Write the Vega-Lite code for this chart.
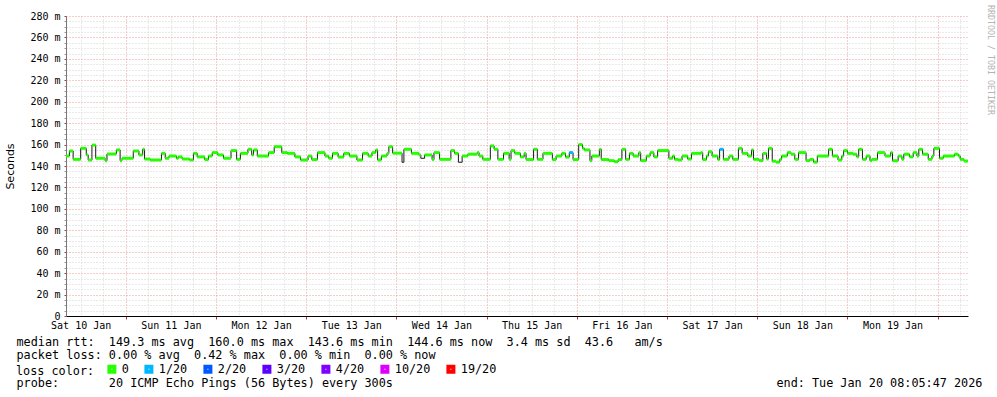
{
"$schema": "https://vega.github.io/schema/vega-lite/v6.json",
"width": 902, "height": 300,
"autosize": {"type": "none"},
"padding": {"left": 66, "top": 16, "right": 29, "bottom": 81},
"background": "white",
"config": {"view": {"stroke": null}, "font": "DejaVu Sans Mono"},
"title": {"text": "RRDTOOL / TOBI OETIKER", "orient": "right", "anchor": "start", "frame": "group", "angle": 90, "fontSize": 8.3, "font": "DejaVu Sans Mono", "fontWeight": "normal", "color": "#b4b4b4", "offset": 5, "dx": -11},
"data": {"values": [
{"t":"2026-01-10T08:06","rtt":149.3,"loss":"0"},
{"t":"2026-01-10T09:00","rtt":154,"loss":"0"},
{"t":"2026-01-10T10:00","rtt":146.2,"loss":"0"},
{"t":"2026-01-10T12:00","rtt":156.5,"loss":"0"},
{"t":"2026-01-10T13:30","rtt":150.3,"loss":"0"},
{"t":"2026-01-10T14:00","rtt":145.6,"loss":"0"},
{"t":"2026-01-10T15:00","rtt":159.5,"loss":"0"},
{"t":"2026-01-10T16:00","rtt":147.2,"loss":"0"},
{"t":"2026-01-10T18:30","rtt":144.9,"loss":"0"},
{"t":"2026-01-10T19:00","rtt":151.2,"loss":"0"},
{"t":"2026-01-10T21:30","rtt":155,"loss":"0"},
{"t":"2026-01-10T22:30","rtt":145,"loss":"0"},
{"t":"2026-01-10T23:00","rtt":147.2,"loss":"0"},
{"t":"2026-01-11T02:00","rtt":154,"loss":"0"},
{"t":"2026-01-11T03:30","rtt":150.3,"loss":"0"},
{"t":"2026-01-11T04:30","rtt":155.6,"loss":"0"},
{"t":"2026-01-11T05:00","rtt":146.5,"loss":"0"},
{"t":"2026-01-11T06:30","rtt":145.6,"loss":"0"},
{"t":"2026-01-11T09:30","rtt":151.8,"loss":"0"},
{"t":"2026-01-11T10:30","rtt":147.2,"loss":"0"},
{"t":"2026-01-11T11:30","rtt":149.3,"loss":"0"},
{"t":"2026-01-11T13:30","rtt":147.2,"loss":"0"},
{"t":"2026-01-11T14:00","rtt":148.5,"loss":"0"},
{"t":"2026-01-11T15:00","rtt":146.5,"loss":"0"},
{"t":"2026-01-11T17:00","rtt":145.6,"loss":"0"},
{"t":"2026-01-11T18:00","rtt":151.8,"loss":"0"},
{"t":"2026-01-11T19:00","rtt":148.5,"loss":"0"},
{"t":"2026-01-11T21:00","rtt":146,"loss":"0"},
{"t":"2026-01-11T22:00","rtt":149.3,"loss":"0"},
{"t":"2026-01-11T23:00","rtt":152.5,"loss":"0"},
{"t":"2026-01-12T00:30","rtt":150.3,"loss":"0"},
{"t":"2026-01-12T02:00","rtt":147.2,"loss":"0"},
{"t":"2026-01-12T04:00","rtt":154.4,"loss":"0"},
{"t":"2026-01-12T05:30","rtt":146.2,"loss":"0"},
{"t":"2026-01-12T06:30","rtt":151.8,"loss":"0"},
{"t":"2026-01-12T08:30","rtt":155.6,"loss":"0"},
{"t":"2026-01-12T09:30","rtt":150.3,"loss":"0"},
{"t":"2026-01-12T10:00","rtt":155,"loss":"0"},
{"t":"2026-01-12T11:00","rtt":149.3,"loss":"0"},
{"t":"2026-01-12T14:00","rtt":152.5,"loss":"0"},
{"t":"2026-01-12T15:30","rtt":158,"loss":"0"},
{"t":"2026-01-12T17:30","rtt":152.5,"loss":"0"},
{"t":"2026-01-12T19:00","rtt":151.8,"loss":"0"},
{"t":"2026-01-12T21:00","rtt":148.5,"loss":"0"},
{"t":"2026-01-12T22:30","rtt":145.6,"loss":"0"},
{"t":"2026-01-13T00:30","rtt":149.3,"loss":"0"},
{"t":"2026-01-13T01:30","rtt":146,"loss":"0"},
{"t":"2026-01-13T03:00","rtt":152.5,"loss":"0"},
{"t":"2026-01-13T05:00","rtt":149.3,"loss":"0"},
{"t":"2026-01-13T06:00","rtt":147.2,"loss":"0"},
{"t":"2026-01-13T07:00","rtt":151.8,"loss":"0"},
{"t":"2026-01-13T08:30","rtt":148.3,"loss":"0"},
{"t":"2026-01-13T10:00","rtt":151.8,"loss":"0"},
{"t":"2026-01-13T11:30","rtt":149.3,"loss":"0"},
{"t":"2026-01-13T13:30","rtt":145.6,"loss":"0"},
{"t":"2026-01-13T15:00","rtt":151.8,"loss":"0"},
{"t":"2026-01-13T16:30","rtt":149.3,"loss":"0"},
{"t":"2026-01-13T17:30","rtt":152.5,"loss":"0"},
{"t":"2026-01-13T18:30","rtt":155,"loss":"0"},
{"t":"2026-01-13T19:00","rtt":145.6,"loss":"0"},
{"t":"2026-01-13T20:00","rtt":149.3,"loss":"0"},
{"t":"2026-01-13T21:30","rtt":151.8,"loss":"0"},
{"t":"2026-01-13T22:00","rtt":158,"loss":"0"},
{"t":"2026-01-13T23:00","rtt":152,"loss":"0"},
{"t":"2026-01-14T01:30","rtt":143.5,"loss":"none"},
{"t":"2026-01-14T02:00","rtt":155.6,"loss":"0"},
{"t":"2026-01-14T04:00","rtt":151.8,"loss":"0"},
{"t":"2026-01-14T06:00","rtt":150.3,"loss":"0"},
{"t":"2026-01-14T06:30","rtt":147.2,"loss":"none"},
{"t":"2026-01-14T07:30","rtt":150.3,"loss":"0"},
{"t":"2026-01-14T09:30","rtt":146,"loss":"0"},
{"t":"2026-01-14T10:00","rtt":152.5,"loss":"0"},
{"t":"2026-01-14T11:30","rtt":146.2,"loss":"0"},
{"t":"2026-01-14T14:30","rtt":154.4,"loss":"0"},
{"t":"2026-01-14T15:30","rtt":151.8,"loss":"0"},
{"t":"2026-01-14T16:30","rtt":143.5,"loss":"none"},
{"t":"2026-01-14T17:30","rtt":149.3,"loss":"0"},
{"t":"2026-01-14T19:00","rtt":151,"loss":"0"},
{"t":"2026-01-14T21:30","rtt":152.5,"loss":"0"},
{"t":"2026-01-14T22:00","rtt":149.3,"loss":"0"},
{"t":"2026-01-14T23:00","rtt":146.2,"loss":"0"},
{"t":"2026-01-15T01:00","rtt":158.8,"loss":"0"},
{"t":"2026-01-15T02:00","rtt":155.6,"loss":"0"},
{"t":"2026-01-15T03:00","rtt":146.2,"loss":"0"},
{"t":"2026-01-15T04:30","rtt":151.8,"loss":"0"},
{"t":"2026-01-15T06:00","rtt":146.2,"loss":"0"},
{"t":"2026-01-15T06:30","rtt":154.4,"loss":"0"},
{"t":"2026-01-15T07:30","rtt":151.8,"loss":"0"},
{"t":"2026-01-15T09:00","rtt":148.5,"loss":"0"},
{"t":"2026-01-15T10:00","rtt":151.8,"loss":"0"},
{"t":"2026-01-15T10:30","rtt":146,"loss":"0"},
{"t":"2026-01-15T12:30","rtt":155.6,"loss":"0"},
{"t":"2026-01-15T13:30","rtt":146.2,"loss":"0"},
{"t":"2026-01-15T15:00","rtt":151.8,"loss":"0"},
{"t":"2026-01-15T17:30","rtt":146,"loss":"0"},
{"t":"2026-01-15T18:30","rtt":149.3,"loss":"0"},
{"t":"2026-01-15T20:00","rtt":151.8,"loss":"0"},
{"t":"2026-01-15T21:00","rtt":148.3,"loss":"0"},
{"t":"2026-01-15T22:00","rtt":152.5,"loss":"1/20"},
{"t":"2026-01-15T23:00","rtt":146,"loss":"0"},
{"t":"2026-01-16T00:30","rtt":160,"loss":"0"},
{"t":"2026-01-16T01:30","rtt":156.5,"loss":"0"},
{"t":"2026-01-16T02:00","rtt":155,"loss":"0"},
{"t":"2026-01-16T03:30","rtt":145,"loss":"0"},
{"t":"2026-01-16T04:00","rtt":149.3,"loss":"0"},
{"t":"2026-01-16T06:00","rtt":155.6,"loss":"0"},
{"t":"2026-01-16T06:30","rtt":146,"loss":"0"},
{"t":"2026-01-16T08:30","rtt":145,"loss":"0"},
{"t":"2026-01-16T10:00","rtt":144,"loss":"0"},
{"t":"2026-01-16T11:00","rtt":146,"loss":"0"},
{"t":"2026-01-16T12:00","rtt":155.6,"loss":"0"},
{"t":"2026-01-16T13:00","rtt":146.2,"loss":"0"},
{"t":"2026-01-16T14:00","rtt":151.8,"loss":"0"},
{"t":"2026-01-16T15:00","rtt":149.3,"loss":"0"},
{"t":"2026-01-16T16:30","rtt":152.5,"loss":"0"},
{"t":"2026-01-16T17:00","rtt":145,"loss":"0"},
{"t":"2026-01-16T18:30","rtt":149.3,"loss":"0"},
{"t":"2026-01-16T19:30","rtt":152.5,"loss":"0"},
{"t":"2026-01-16T20:30","rtt":148.5,"loss":"0"},
{"t":"2026-01-16T21:30","rtt":154.4,"loss":"0"},
{"t":"2026-01-17T00:30","rtt":147.2,"loss":"0"},
{"t":"2026-01-17T01:30","rtt":149.3,"loss":"0"},
{"t":"2026-01-17T02:00","rtt":146.2,"loss":"0"},
{"t":"2026-01-17T03:00","rtt":145.6,"loss":"0"},
{"t":"2026-01-17T04:00","rtt":149.3,"loss":"0"},
{"t":"2026-01-17T05:30","rtt":146.5,"loss":"0"},
{"t":"2026-01-17T06:30","rtt":151.8,"loss":"0"},
{"t":"2026-01-17T09:00","rtt":152.5,"loss":"0"},
{"t":"2026-01-17T09:30","rtt":146,"loss":"0"},
{"t":"2026-01-17T10:30","rtt":149.3,"loss":"0"},
{"t":"2026-01-17T11:00","rtt":153.3,"loss":"0"},
{"t":"2026-01-17T12:00","rtt":149.3,"loss":"0"},
{"t":"2026-01-17T13:30","rtt":146,"loss":"0"},
{"t":"2026-01-17T14:00","rtt":155.6,"loss":"1/20"},
{"t":"2026-01-17T15:00","rtt":146.2,"loss":"0"},
{"t":"2026-01-17T16:30","rtt":149.3,"loss":"0"},
{"t":"2026-01-17T17:30","rtt":146.2,"loss":"0"},
{"t":"2026-01-17T19:00","rtt":156.5,"loss":"0"},
{"t":"2026-01-17T20:00","rtt":151.8,"loss":"0"},
{"t":"2026-01-17T21:30","rtt":149.3,"loss":"0"},
{"t":"2026-01-17T22:30","rtt":155,"loss":"0"},
{"t":"2026-01-17T23:00","rtt":146.2,"loss":"0"},
{"t":"2026-01-18T00:30","rtt":145,"loss":"0"},
{"t":"2026-01-18T01:30","rtt":151.8,"loss":"0"},
{"t":"2026-01-18T02:30","rtt":146.5,"loss":"0"},
{"t":"2026-01-18T03:00","rtt":156.5,"loss":"0"},
{"t":"2026-01-18T04:00","rtt":144.5,"loss":"0"},
{"t":"2026-01-18T05:00","rtt":143.6,"loss":"0"},
{"t":"2026-01-18T06:00","rtt":146.2,"loss":"0"},
{"t":"2026-01-18T06:30","rtt":149.3,"loss":"0"},
{"t":"2026-01-18T08:00","rtt":152.5,"loss":"0"},
{"t":"2026-01-18T09:00","rtt":151,"loss":"0"},
{"t":"2026-01-18T10:00","rtt":146.2,"loss":"0"},
{"t":"2026-01-18T11:00","rtt":152.5,"loss":"0"},
{"t":"2026-01-18T13:00","rtt":145,"loss":"0"},
{"t":"2026-01-18T14:00","rtt":146.2,"loss":"0"},
{"t":"2026-01-18T15:00","rtt":143.6,"loss":"0"},
{"t":"2026-01-18T16:00","rtt":149.3,"loss":"0"},
{"t":"2026-01-18T19:00","rtt":155.6,"loss":"0"},
{"t":"2026-01-18T20:00","rtt":149.3,"loss":"0"},
{"t":"2026-01-18T21:30","rtt":145.6,"loss":"0"},
{"t":"2026-01-18T22:30","rtt":149.3,"loss":"0"},
{"t":"2026-01-18T23:00","rtt":154.4,"loss":"0"},
{"t":"2026-01-19T00:00","rtt":151.8,"loss":"0"},
{"t":"2026-01-19T01:30","rtt":151,"loss":"0"},
{"t":"2026-01-19T02:30","rtt":148.5,"loss":"0"},
{"t":"2026-01-19T03:00","rtt":155.6,"loss":"0"},
{"t":"2026-01-19T04:00","rtt":146.2,"loss":"0"},
{"t":"2026-01-19T05:00","rtt":149.3,"loss":"0"},
{"t":"2026-01-19T06:00","rtt":145,"loss":"0"},
{"t":"2026-01-19T06:30","rtt":146.2,"loss":"0"},
{"t":"2026-01-19T08:00","rtt":152.5,"loss":"0"},
{"t":"2026-01-19T10:00","rtt":149.3,"loss":"0"},
{"t":"2026-01-19T11:30","rtt":152.5,"loss":"0"},
{"t":"2026-01-19T12:00","rtt":144.9,"loss":"0"},
{"t":"2026-01-19T13:30","rtt":149.3,"loss":"0"},
{"t":"2026-01-19T14:30","rtt":146.2,"loss":"0"},
{"t":"2026-01-19T15:00","rtt":151,"loss":"0"},
{"t":"2026-01-19T16:30","rtt":148.5,"loss":"0"},
{"t":"2026-01-19T17:30","rtt":152.5,"loss":"0"},
{"t":"2026-01-19T18:30","rtt":149.3,"loss":"0"},
{"t":"2026-01-19T19:00","rtt":155.6,"loss":"0"},
{"t":"2026-01-19T20:00","rtt":151,"loss":"0"},
{"t":"2026-01-19T21:30","rtt":146.2,"loss":"0"},
{"t":"2026-01-19T22:30","rtt":149.3,"loss":"0"},
{"t":"2026-01-19T23:00","rtt":156.5,"loss":"0"},
{"t":"2026-01-20T00:30","rtt":147.2,"loss":"0"},
{"t":"2026-01-20T01:30","rtt":149.3,"loss":"0"},
{"t":"2026-01-20T04:30","rtt":151,"loss":"0"},
{"t":"2026-01-20T05:30","rtt":149.3,"loss":"0"},
{"t":"2026-01-20T06:00","rtt":146.2,"loss":"0"},
{"t":"2026-01-20T07:00","rtt":144.6,"loss":"0"},
{"t":"2026-01-20T08:05","rtt":144.6,"loss":"none"}
]},
"encoding": {
  "x": {"field": "t", "type": "temporal",
    "scale": {"nice": false},
    "axis": {
      "title": ["median rtt:\u00a0\u00a0149.3 ms avg\u00a0\u00a0160.0 ms max\u00a0\u00a0143.6 ms min\u00a0\u00a0144.6 ms now\u00a0\u00a03.4 ms sd\u00a0\u00a043.6\u00a0\u00a0\u00a0am/s", "packet loss: 0.00 \u0025 avg\u00a0\u00a00.42 \u0025 max\u00a0\u00a00.00 \u0025 min\u00a0\u00a00.00 \u0025 now", "\u2800", "probe:\u00a0\u00a0\u00a0\u00a0\u00a0\u00a0\u00a020 ICMP Echo Pings (56 Bytes) every 300s\u00a0\u00a0\u00a0\u00a0\u00a0\u00a0\u00a0\u00a0\u00a0\u00a0\u00a0\u00a0\u00a0\u00a0\u00a0\u00a0\u00a0\u00a0\u00a0\u00a0\u00a0\u00a0\u00a0\u00a0\u00a0\u00a0\u00a0\u00a0\u00a0\u00a0\u00a0\u00a0\u00a0\u00a0\u00a0\u00a0\u00a0\u00a0\u00a0\u00a0\u00a0\u00a0\u00a0\u00a0\u00a0\u00a0\u00a0\u00a0\u00a0\u00a0\u00a0\u00a0\u00a0\u00a0end: Tue Jan 20 08:05:47 2026"],
      "titleFont": "DejaVu Sans Mono", "titleFontSize": 11.8, "titleFontWeight": "normal", "titleColor": "#000",
      "titleX": -50, "titleY": 29, "titleAlign": "left", "titleBaseline": "alphabetic", "titleAnchor": "start", "titleLineHeight": 13.7,
      "tickCount": 40,
      "labelExpr": "hours(datum.value) == 12 ? timeFormat(datum.value, '\u0025a \u0025d Jan') : ''",
      "labelOverlap": false, "labelFlush": false, "labelBound": false, "labelAngle": 0,
      "labelFont": "DejaVu Sans Mono", "labelFontSize": 10, "labelColor": "#000", "labelBaseline": "top", "labelPadding": 1,
      "tickSize": 3, "tickColor": {"condition": {"test": "hours(datum.value) == 0", "value": "#c03030"}, "value": "#ffffff"},
      "domainColor": "#000", "domainWidth": 1,
      "grid": true, "gridColor": {"condition": {"test": "hours(datum.value) == 0", "value": "#e89a9a"}, "value": "#d4d4d4"}, "gridDash": [1, 2], "gridWidth": 1
    }},
  "y": {"field": "rtt", "type": "quantitative",
    "scale": {"domain": [0, 280], "nice": false},
    "axis": {
      "title": "Seconds", "titleFont": "DejaVu Sans", "titleFontSize": 11, "titleFontWeight": "normal", "titleColor": "#000",
      "titleX": -56, "titleY": 150, "titleAngle": -90, "titleBaseline": "middle", "titleAlign": "center",
      "values": [0,5,10,15,20,25,30,35,40,45,50,55,60,65,70,75,80,85,90,95,100,105,110,115,120,125,130,135,140,145,150,155,160,165,170,175,180,185,190,195,200,205,210,215,220,225,230,235,240,245,250,255,260,265,270,275,280],
      "labelExpr": "datum.value \u0025 20 == 0 ? (datum.value == 0 ? '0' : datum.value + ' m') : ''",
      "labelOverlap": false, "labelFlush": false, "labelBound": false,
      "labelFont": "DejaVu Sans Mono", "labelFontSize": 10, "labelColor": "#000", "labelPadding": 4,
      "tickSize": 2, "tickColor": {"condition": {"test": "datum.value \u0025 20 == 0", "value": "#c03030"}, "value": "#999999"},
      "domainColor": "#777777",
      "grid": true, "gridColor": {"condition": {"test": "datum.value \u0025 20 == 0", "value": "#e89a9a"}, "value": "#d4d4d4"}, "gridDash": [1, 2], "gridWidth": 1
    }}
},
"layer": [
  {"mark": {"type": "line", "interpolate": "step-after", "color": "#1a1a1a", "strokeWidth": 1}, "encoding": {}},
  {"transform": [
     {"window": [{"op": "lead", "field": "t", "as": "t2"}], "sort": [{"field": "t"}]},
     {"filter": "datum.t2 != null && datum.loss != 'none'"}
   ],
   "mark": {"type": "rule", "strokeWidth": 3, "strokeCap": "butt"},
   "encoding": {
     "x2": {"field": "t2"},
     "color": {"field": "loss", "type": "nominal",
       "scale": {"domain": ["0","1/20","2/20","3/20","4/20","10/20","19/20"], "range": ["#26ff00","#00b8ff","#0059ff","#5e00ff","#7e00ff","#dd00ff","#ff0000"]},
       "legend": {"title": "loss color:", "orient": "none", "legendX": -50, "legendY": 347, "direction": "horizontal",
         "titleOrient": "left", "titleFont": "DejaVu Sans Mono", "titleFontSize": 11.8, "titleFontWeight": "normal", "titleColor": "#000", "titlePadding": 11,
         "labelFont": "DejaVu Sans Mono", "labelFontSize": 11.8, "labelColor": "#000", "labelOffset": 4, "columnPadding": 9,
         "symbolType": "square", "symbolSize": 25, "symbolStrokeWidth": 4, "padding": 0}}
   }}
]
}
